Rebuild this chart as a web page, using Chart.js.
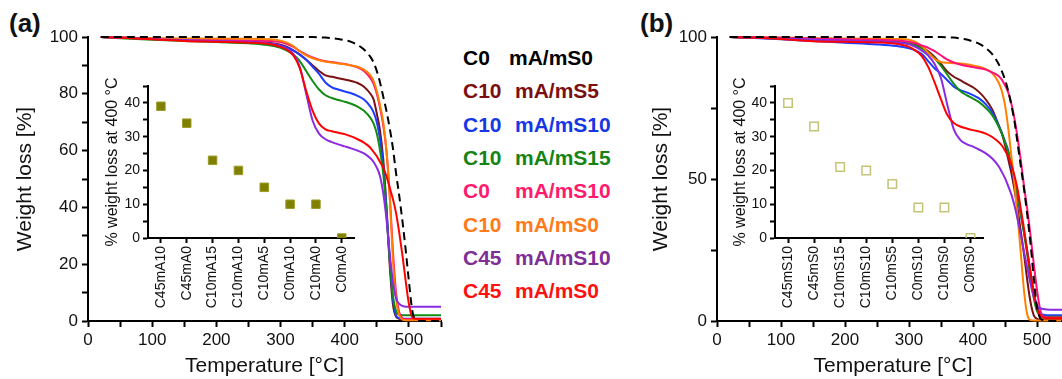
<!DOCTYPE html>
<html>
<head>
<meta charset="utf-8">
<script src="https://cdn.jsdelivr.net/npm/chart.js@4"></script>
<style>
  body { margin: 0; width: 1062px; height: 379px; overflow: hidden; background: #fff; font-family: Arial, "Liberation Sans", sans-serif; position: relative; }
  canvas { position: absolute; }
  .tag { position: absolute; font-weight: bold; font-size: 26px; line-height: 26px; color: #111; }
  .key { position: absolute; font-weight: bold; font-size: 21px; line-height: 21px; white-space: nowrap; }
</style>
</head>
<body>
<div class="tag" style="left:9px;top:10px">(a)</div>
<div class="tag" style="left:640px;top:10px">(b)</div>
<div id="legend"></div>

<canvas id="chartA" width="450" height="379" style="left:0;top:0"></canvas>
<canvas id="insetA" width="262" height="240" style="left:100px;top:70px"></canvas>
<canvas id="chartB" width="460" height="379" style="left:620px;top:0"></canvas>
<canvas id="insetB" width="264" height="240" style="left:727px;top:70px"></canvas>

<script>
// temperature grid [°C] shared by all curves
const temps = [20, 50, 100, 150, 200, 250, 280,
  300, 310, 320, 330, 340, 350, 360, 370, 380, 390, 400, 410, 420, 430, 440,
  445, 450, 455, 460, 465, 470, 475, 480, 485, 490, 495, 500, 505, 510,
  520, 550];

// panel (a) weight curves [%]
const aC0mS0 = [100, 100, 100, 100, 100, 100, 100,
  100, 100, 100, 100, 100, 100, 99.9, 99.8, 99.6, 99.3, 98.9, 98.3, 97.2, 95.6, 93,
  91, 88, 84, 79, 74, 68, 61, 52, 44, 35, 25, 14, 4, 0.5,
  0, 0];
const aC10mS5 = [100, 99.8, 99.4, 99, 98.7, 98.4, 98,
  97.3, 96.5, 95.3, 93.8, 92, 90, 88, 86.5, 86, 85.5, 85, 84.5, 83.8, 82.5, 80,
  78, 73, 67, 57, 40, 20, 6, 1.5, 0.8, 0.6, 0.6, 0.6, 0.6, 0.6,
  0.6, 0.6];
const aC10mS10 = [100, 99.8, 99.4, 99, 98.6, 98.2, 97.8,
  97, 96.2, 95.2, 93.8, 92, 89.5, 87, 84, 82.3, 81.5, 80.8, 80.2, 79.3, 78, 75.5,
  73.5, 70, 64, 55, 40, 22, 8, 2, 1, 0.8, 0.8, 0.8, 0.8, 0.8,
  0.8, 0.8];
const aC10mS15 = [100, 99.6, 99, 98.6, 98.2, 97.8, 97.2,
  96.2, 95.2, 93.8, 91.5, 88, 84.5, 81.5, 79.5, 78.5, 77.8, 77.2, 76.5, 75.5, 74, 71.5,
  69.5, 66, 60, 52, 38, 22, 9, 3.5, 2.2, 2, 2, 2, 2, 2,
  2, 2];
const aC0mS10 = [100, 99.8, 99.5, 99.2, 99, 98.8, 98.6,
  98.2, 97.5, 96.5, 95, 93.8, 92.8, 92, 91.5, 91.2, 90.8, 90.5, 90, 89.3, 88, 85.5,
  83.5, 80, 75, 69, 60, 45, 25, 10, 3, 1, 0.7, 0.7, 0.7, 0.7,
  0.7, 0.7];
const aC10mS0 = [100, 99.8, 99.6, 99.5, 99.5, 99.4, 99.2,
  98.7, 98, 96.8, 95, 93.5, 92.5, 91.8, 91.3, 91, 90.7, 90.4, 90, 89.5, 88.5, 86.5,
  84.5, 81, 76, 70, 60, 44, 22, 8, 2, 0.5, 0.3, 0.3, 0.3, 0.3,
  0.3, 0.3];
const aC45mS10 = [100, 99.7, 99.3, 98.9, 98.6, 98.3, 97.8,
  96.8, 95.8, 94, 89.5, 80, 70.5, 66, 64, 63, 62.2, 61.5, 60.8, 60, 59, 57.3,
  56, 54, 51, 45, 36, 24, 14, 8, 6, 5.3, 5, 5, 5, 5,
  5, 5];
const aC45mS0 = [100, 99.7, 99.2, 98.6, 98.3, 98, 97.6,
  96.5, 95.5, 93.5, 89, 81, 74, 69.5, 67.5, 66.8, 66.3, 65.8, 65, 64, 62.8, 61,
  59.5, 58, 56, 54, 51, 47, 43, 38, 31, 23, 14, 6, 1.5, 0.8,
  0.8, 0.8];

// panel (b) weight curves [%]
const bC0mS0 = [100, 100, 100, 100, 100, 100, 100,
  100, 100, 100, 100, 100, 100, 99.9, 99.8, 99.5, 99.1, 98.4, 97.6, 96.1, 94, 90.5,
  88, 85, 81, 76, 70, 62, 54, 46, 37, 27, 15, 5, 1, 0.3,
  0, 0];
const bC10mS5 = [100, 99.8, 99.5, 99.2, 99, 98.7, 98.3,
  97.7, 97.2, 96.3, 95, 93, 90.5, 87.8, 86, 84.8, 83.5, 82.3, 80.5, 78, 74.5, 69,
  66, 62, 57, 52, 46, 39, 31, 23, 14, 6.5, 2, 0.8, 0.5, 0.5,
  0.5, 0.5];
const bC10mS10 = [100, 99.7, 99.2, 98.6, 98, 97.4, 96.8,
  96, 95.3, 94, 91.5, 89, 87, 84.8, 82.5, 81.3, 80.5, 79.5, 78.3, 76.3, 73.5, 69,
  66.3, 63.2, 60, 54, 48.5, 43, 37, 31, 24.5, 17, 10, 5, 2.8, 2.2,
  2, 2];
const bC10mS15 = [100, 99.8, 99.5, 99.1, 98.8, 98.5, 98.2,
  97.6, 97, 96, 94.5, 92.5, 89.8, 86.7, 83.5, 81, 79.5, 78.3, 77, 75, 72.5, 68.5,
  66, 63, 59.5, 55, 50, 44, 37.5, 30.5, 23, 15, 8, 3.5, 2, 1.6,
  1.5, 1.5];
const bC0mS10 = [100, 99.9, 99.7, 99.4, 99.2, 99, 98.8,
  98.3, 97.8, 97, 96.2, 95, 93.5, 92, 91, 90.3, 89.8, 89.4, 89, 88.5, 87.5, 86.3,
  85, 83, 80.5, 76.5, 71, 64, 56, 47, 39, 30, 20, 11, 4, 1.5,
  1.2, 1.2];
const bC10mS0 = [100, 99.9, 99.8, 99.6, 99.5, 99.4, 99.3,
  99, 98.3, 96.8, 94.5, 92.3, 91.2, 90.9, 90.8, 90.7, 90.4, 90, 89.5, 88.7, 87.3, 84,
  81, 76, 68, 58, 48, 36, 23, 10, 2, 0.3, 0.2, 0.2, 0.2, 0.2,
  0.2, 0.2];
const bC45mS10 = [100, 99.8, 99.5, 99.1, 98.8, 98.5, 98.1,
  97.4, 96.5, 95.2, 93.5, 90.5, 85.5, 76, 67.5, 63.8, 62.3, 61.4, 60.3, 59, 57.2, 54.5,
  52.5, 50.3, 47.5, 44.5, 40.5, 35.5, 30, 24, 18.5, 13, 8.5, 5.5, 4.5, 4.2,
  4, 4];
const bC45mS0 = [100, 99.8, 99.3, 98.5, 98.3, 98.1, 97.6,
  96.5, 95.2, 93.3, 89.5, 84, 78, 72.5, 69.7, 68.5, 67.8, 67.2, 66.7, 66, 64.8, 63,
  61.8, 60, 58, 55, 51, 46, 39, 32, 24, 17, 10, 4.5, 2, 1.2,
  1, 1];

// insets: % weight loss at 400 °C
const insetACats = ['C45mA10', 'C45mA0', 'C10mA15', 'C10mA10', 'C10mA5', 'C0mA10', 'C10mA0', 'C0mA0'];
const insetAVals = [39, 34, 23, 20, 15, 10, 10, 0];
const insetBCats = ['C45mS10', 'C45mS0', 'C10mS15', 'C10mS10', 'C10mS5', 'C0mS10', 'C10mS0', 'C0mS0'];
const insetBVals = [40, 33, 21, 20, 16, 9, 9, 0];

// legend
const legendCodes = ['C0', 'C10', 'C10', 'C10', 'C0', 'C10', 'C45', 'C45'];
const legendNames = ['mA/mS0', 'mA/mS5', 'mA/mS10', 'mA/mS15', 'mA/mS10', 'mA/mS0', 'mA/mS10', 'mA/mS0'];
const legendColors = ['#000000', '#7b0f0f', '#1537e6', '#158415', '#ff1a6e', '#ff7a1a', '#7d2f96', '#ff1010'];

const lineColors = {
  black: '#000000', darkred: '#7a1010', blue: '#1e3cff', green: '#128c12',
  pink: '#ff1177', orange: '#ff8000', purple: '#8a2be2', red: '#ff0000'
};

Chart.defaults.font.family = 'Arial, "Liberation Sans", sans-serif';
Chart.defaults.color = '#111';

const legendBox = document.getElementById('legend');
legendCodes.forEach((code, i) => {
  const top = 47 + i * 33.3;
  const a = document.createElement('div');
  a.className = 'key';
  a.style.left = '463px';
  a.style.top = top + 'px';
  a.style.color = legendColors[i];
  a.textContent = code;
  const b = document.createElement('div');
  b.className = 'key';
  b.style.left = (i === 0 ? 509 : 515) + 'px';
  b.style.top = top + 'px';
  b.style.color = legendColors[i];
  b.textContent = legendNames[i];
  legendBox.appendChild(a);
  legendBox.appendChild(b);
});

const toXY = (vals) => temps.map((t, i) => ({ x: t, y: vals[i] }));

function curve(vals, color, dashed) {
  return {
    data: toXY(vals),
    borderColor: color,
    borderWidth: 2,
    borderDash: dashed ? [8, 5] : [],
    pointRadius: 0,
    cubicInterpolationMode: 'monotone',
    clip: 3,
  };
}

function axisStyle() {
  return {
    grid: { drawOnChartArea: false, drawTicks: true, tickLength: 6, color: '#000', tickWidth: 2 },
    border: { display: true, color: '#000', width: 2 },
  };
}

function mainChart(id, sets, yStep, yLabelStep, yWidth, titlePad, padRight) {
  const x = axisStyle();
  const y = axisStyle();
  return new Chart(document.getElementById(id), {
    type: 'line',
    data: { datasets: sets },
    options: {
      responsive: false,
      animation: false,
      devicePixelRatio: 1,
      layout: { padding: { left: 0, right: padRight, top: 37, bottom: 0 } },
      plugins: { legend: { display: false }, tooltip: { enabled: false } },
      scales: {
        x: {
          type: 'linear', min: 0, max: 550,
          ...x,
          ticks: {
            stepSize: 50, autoSkip: false, maxRotation: 0, padding: 3,
            font: { size: 17 },
            callback: (v) => (v % 100 === 0 ? v : ''),
          },
          title: { display: true, text: 'Temperature [°C]', font: { size: 21 }, padding: { top: 0, bottom: 0 } },
          afterFit: (s) => { s.height = 58; },
        },
        y: {
          min: 0, max: 100,
          ...y,
          ticks: {
            stepSize: yStep, autoSkip: false, padding: 4,
            font: { size: 17 },
            callback: (v) => (v % yLabelStep === 0 ? v : ''),
          },
          title: { display: true, text: 'Weight loss [%]', font: { size: 21 }, padding: { top: titlePad, bottom: 0 } },
          afterFit: (s) => { s.width = yWidth; },
        },
      },
    },
  });
}

function insetChart(id, cats, vals, point, titlePad, padRight) {
  const x = axisStyle();
  const y = axisStyle();
  x.grid.tickLength = 5;
  y.grid.tickLength = 5;
  return new Chart(document.getElementById(id), {
    type: 'line',
    data: {
      labels: cats,
      datasets: [{
        data: vals,
        showLine: false,
        pointStyle: 'rect',
        pointRadius: 6,
        pointBorderWidth: point.borderWidth,
        pointBackgroundColor: point.fill,
        pointBorderColor: point.border,
      }],
    },
    options: {
      responsive: false,
      animation: false,
      devicePixelRatio: 1,
      layout: { padding: { left: 0, right: padRight, top: 16, bottom: 0 } },
      plugins: { legend: { display: false }, tooltip: { enabled: false } },
      scales: {
        x: {
          type: 'category', offset: true,
          ...x,
          ticks: { autoSkip: false, minRotation: 90, maxRotation: 90, padding: 3, font: { size: 14 } },
          afterFit: (s) => { s.height = 72; },
        },
        y: {
          min: 0, max: 45,
          ...y,
          ticks: {
            stepSize: 5, autoSkip: false, padding: 3,
            font: { size: 14 },
            callback: (v) => (v % 10 === 0 ? v : ''),
          },
          title: { display: true, text: '% weight loss at 400 °C', font: { size: 16 }, padding: { top: titlePad, bottom: 0 } },
          afterFit: (s) => { s.width = 48; },
        },
      },
    },
  });
}

mainChart('chartA', [
  curve(aC0mS0, lineColors.black, true),
  curve(aC45mS0, lineColors.red),
  curve(aC45mS10, lineColors.purple),
  curve(aC10mS0, lineColors.orange),
  curve(aC0mS10, lineColors.pink),
  curve(aC10mS15, lineColors.green),
  curve(aC10mS10, lineColors.blue),
  curve(aC10mS5, lineColors.darkred),
], 10, 20, 88, 13, 9);

mainChart('chartB', [
  curve(bC0mS0, lineColors.black, true),
  curve(bC45mS0, lineColors.red),
  curve(bC45mS10, lineColors.purple),
  curve(bC0mS10, lineColors.pink),
  curve(bC10mS0, lineColors.orange),
  curve(bC10mS15, lineColors.green),
  curve(bC10mS10, lineColors.blue),
  curve(bC10mS5, lineColors.darkred),
], 25, 50, 97, 29, 11);

insetChart('insetA', insetACats, insetAVals, { fill: '#7f7f00', border: '#9c9c28', borderWidth: 1 }, 3, 5);
insetChart('insetB', insetBCats, insetBVals, { fill: 'rgba(255,255,255,0)', border: '#c4c478', borderWidth: 1.5 }, 4, 5);
</script>
</body>
</html>
